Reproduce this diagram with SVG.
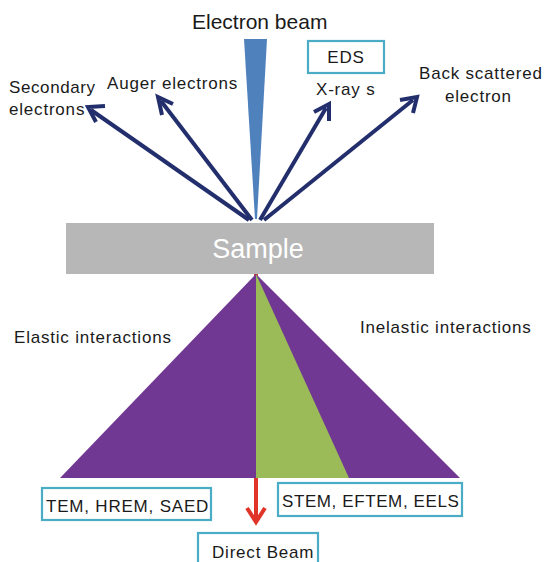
<svg xmlns="http://www.w3.org/2000/svg" width="545" height="562" viewBox="0 0 545 562">
  <defs>
    <style>
      text { font-family: "Liberation Sans", Arial, sans-serif; fill: #1a1a1a; }
      .lbl { font-size: 17px; letter-spacing: 0.8px; }
      .box { fill: #ffffff; stroke: #4BACC6; stroke-width: 2.2; }
      .ray { stroke: #232F6C; stroke-width: 4; fill: none; stroke-linecap: butt; }
      .head { stroke: #232F6C; stroke-width: 4; fill: none; stroke-linejoin: miter; }
    </style>
  </defs>

  <rect width="545" height="562" fill="#ffffff"/>

  <!-- incident beam -->
  <g id="beam">
    <text x="192" y="29" style="font-size:21px">Electron beam</text>
    <polygon points="244,39 267,39 257,219 255,219" fill="#4F81BD"/>
  </g>

  <!-- emitted signals -->
  <g id="connectors">
    <line class="ray" x1="249" y1="220" x2="91" y2="110"/>
    <polyline class="head" points="96,122 88,107 105,106"/>
    <line class="ray" x1="252" y1="220" x2="161" y2="101"/>
    <polyline class="head" points="162,115 158,97 173,104"/>
    <line class="ray" x1="260" y1="220" x2="326" y2="108"/>
    <polyline class="head" points="314,112 329,104 329,121"/>
    <line class="ray" x1="264" y1="220" x2="413" y2="100"/>
    <polyline class="head" points="400,100 417,97 413,113"/>
    <!-- transmitted direct beam -->
    <line x1="256" y1="274" x2="256" y2="521" stroke="#E0342A" stroke-width="4"/>
    <polyline points="247,508 256,522 265,508" fill="none" stroke="#E0342A" stroke-width="4"/>
  </g>

  <g id="secondary">
    <text class="lbl" x="9" y="93" style="letter-spacing:0.6px">Secondary</text>
    <text class="lbl" x="9" y="115">electrons</text>
  </g>
  <g id="auger">
    <text class="lbl" x="107" y="89">Auger electrons</text>
  </g>
  <g id="eds">
    <rect class="box" x="308" y="41" width="76" height="32"/>
    <text class="lbl" x="346" y="63" text-anchor="middle">EDS</text>
    <text class="lbl" x="316" y="95">X-ray s</text>
  </g>
  <g id="backscattered">
    <text class="lbl" x="419" y="79">Back scattered</text>
    <text class="lbl" x="445" y="102">electron</text>
  </g>

  <!-- specimen -->
  <g id="sample">
    <rect x="66" y="223" width="368" height="51" fill="#B7B7B7"/>
    <text x="258" y="258" text-anchor="middle" style="font-size:27px; fill:#ffffff">Sample</text>
  </g>

  <!-- scattering cone -->
  <g id="interactions">
    <polygon points="256,274 460,478 60,478" fill="#713893"/>
    <polygon points="256,274 349,478 256,478" fill="#9BBB59"/>
    <text class="lbl" x="14" y="343">Elastic interactions</text>
    <text class="lbl" x="360" y="333">Inelastic interactions</text>
  </g>

  <g id="tem">
    <rect class="box" x="42" y="488" width="169" height="32"/>
    <text class="lbl" x="46" y="512">TEM, HREM, SAED</text>
  </g>
  <g id="stem">
    <rect class="box" x="278" y="483" width="184" height="33"/>
    <text class="lbl" x="282" y="507" style="letter-spacing:0.6px">STEM, EFTEM, EELS</text>
  </g>
  <g id="direct">
    <rect class="box" x="198" y="533" width="120" height="40"/>
    <text class="lbl" x="212" y="558">Direct Beam</text>
  </g>
</svg>
